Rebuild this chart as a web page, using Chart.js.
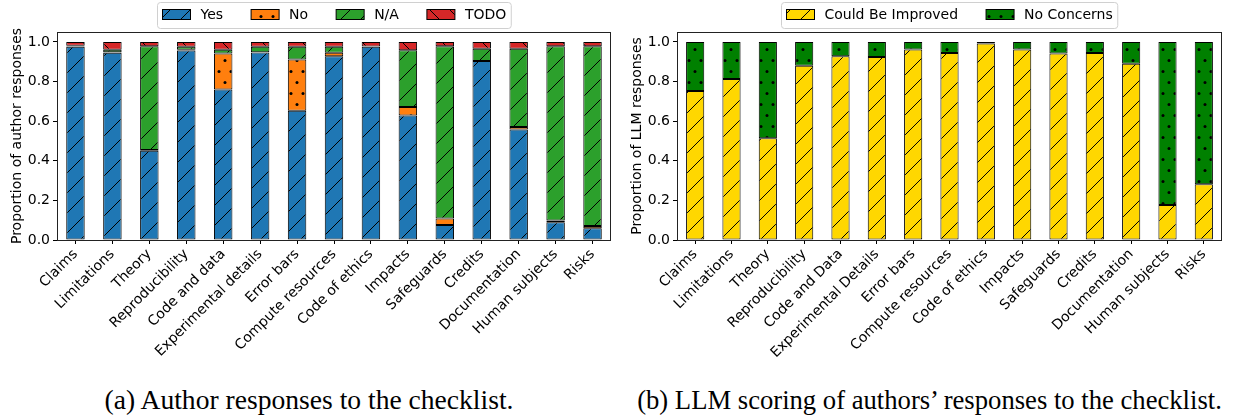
<!DOCTYPE html>
<html><head><meta charset="utf-8">
<script src="https://cdn.jsdelivr.net/npm/chart.js@4/dist/chart.umd.min.js"></script>
<style>
html,body{margin:0;padding:0;background:#fff;width:1233px;height:417px;overflow:hidden;position:relative}
#ca{position:absolute;left:0;top:0}
#cb{position:absolute;left:620px;top:0}
.cap{position:absolute;top:388px;font-family:"Liberation Serif",serif;font-size:22px;line-height:24px;white-space:nowrap;color:#000;transform:translateX(-50%)}
</style></head><body>
<canvas id="ca" width="620" height="360"></canvas>
<canvas id="cb" width="613" height="360"></canvas>
<div class="cap" id="capA" style="left:309px">(a) Author responses to the checklist.</div>
<div class="cap" id="capB" style="left:929.5px">(b) LLM scoring of authors’ responses to the checklist.</div>
<script>
// ---- data: author responses ----
const categoriesA = ["Claims","Limitations","Theory","Reproducibility","Code and data","Experimental details","Error bars","Compute resources","Code of ethics","Impacts","Safeguards","Credits","Documentation","Human subjects","Risks"];
const yesA  = [0.975,0.945,0.450,0.957,0.760,0.946,0.652,0.928,0.975,0.629,0.076,0.904,0.558,0.089,0.059];
const noA   = [0.003,0.003,0.004,0.003,0.181,0.002,0.259,0.017,0.000,0.043,0.032,0.000,0.012,0.010,0.012];
const naA   = [0.002,0.013,0.524,0.015,0.020,0.027,0.064,0.030,0.002,0.286,0.870,0.062,0.395,0.879,0.907];
const todoA = [0.020,0.039,0.022,0.025,0.039,0.025,0.025,0.025,0.023,0.042,0.022,0.034,0.035,0.022,0.022];
// ---- data: LLM scoring ----
const categoriesB = ["Claims","Limitations","Theory","Reproducibility","Code and Data","Experimental Details","Error bars","Compute resources","Code of ethics","Impacts","Safeguards","Credits","Documentation","Human subjects","Risks"];
const improveB  = [0.752,0.813,0.514,0.879,0.927,0.924,0.962,0.944,0.992,0.962,0.941,0.944,0.890,0.177,0.282];
const concernsB = [0.248,0.187,0.486,0.121,0.073,0.076,0.038,0.056,0.008,0.038,0.059,0.056,0.110,0.823,0.718];
const yTicks = [0.0,0.2,0.4,0.6,0.8,1.0];

Chart.defaults.font.family = '"DejaVu Sans", sans-serif';
Chart.defaults.font.size = 14;
Chart.defaults.color = '#000';

function pattern(bg, kind){
  const c = document.createElement('canvas');
  let g;
  if (kind === '/' || kind === '\\') {
    c.width = 20; c.height = 20; g = c.getContext('2d');
    g.fillStyle = bg; g.fillRect(0,0,20,20);
    g.strokeStyle = '#000'; g.lineWidth = 1; g.beginPath();
    if (kind === '/') { g.moveTo(-2,22); g.lineTo(22,-2); }
    else { g.moveTo(-2,-2); g.lineTo(22,22); }
    g.stroke();
  } else {
    c.width = 12; c.height = 22; g = c.getContext('2d');
    g.fillStyle = bg; g.fillRect(0,0,12,22);
    g.fillStyle = '#000';
    [[3,5.5],[9,16.5]].forEach(p=>{ g.beginPath(); g.arc(p[0],p[1],1.5,0,Math.PI*2); g.fill(); });
  }
  return g.createPattern(c,'repeat');
}

const P = {
  yes: pattern('#1f77b4','/'), no: pattern('#ff7f0e','.'), na: pattern('#2ca02c','/'), todo: pattern('#d62728','\\'),
  imp: pattern('#ffd700','/'), nc: pattern('#008000','.')
};

const boxPlugin = {
  id:'mplBox',
  afterDatasetsDraw(chart){
    const ca = chart.chartArea, ctx = chart.ctx;
    ctx.save(); ctx.strokeStyle = '#222'; ctx.lineWidth = 1;
    ctx.strokeRect(Math.round(ca.left)+0.5, Math.round(ca.top)+0.5, Math.round(ca.right-ca.left)-1, Math.round(ca.bottom-ca.top));
    ctx.restore();
  }
};
const legendPlugin = {
  id:'mplLegend',
  afterDraw(chart, args, opts){
    const items = opts.items; if (!items) return;
    const ctx = chart.ctx; ctx.save();
    ctx.font = '14px "DejaVu Sans"';
    const sw = 28, sh = 10, tp = 10, cs = 28, bp = 5;
    let w = bp*2;
    items.forEach((it,i)=>{ w += sw + tp + ctx.measureText(it.label).width + (i ? cs : 0); });
    const ca = chart.chartArea, cx = (ca.left+ca.right)/2;
    const x0 = Math.round(cx - w/2) + 0.5, y0 = 2.5, h = 26, r = 3;
    ctx.beginPath();
    ctx.moveTo(x0+r,y0); ctx.lineTo(x0+w-r,y0); ctx.quadraticCurveTo(x0+w,y0,x0+w,y0+r);
    ctx.lineTo(x0+w,y0+h-r); ctx.quadraticCurveTo(x0+w,y0+h,x0+w-r,y0+h);
    ctx.lineTo(x0+r,y0+h); ctx.quadraticCurveTo(x0,y0+h,x0,y0+h-r);
    ctx.lineTo(x0,y0+r); ctx.quadraticCurveTo(x0,y0,x0+r,y0); ctx.closePath();
    ctx.fillStyle = 'rgba(255,255,255,0.9)'; ctx.fill();
    ctx.strokeStyle = '#d0d0d0'; ctx.lineWidth = 1; ctx.stroke();
    let x = x0 + bp;
    items.forEach(it=>{
      ctx.fillStyle = it.fill; ctx.fillRect(x, 9.5, sw, sh);
      ctx.strokeStyle = '#000'; ctx.lineWidth = 1; ctx.strokeRect(x, 9.5, sw, sh);
      x += sw + tp;
      ctx.fillStyle = '#000'; ctx.textBaseline = 'middle'; ctx.textAlign = 'left';
      ctx.fillText(it.label, x, 15.5);
      x += ctx.measureText(it.label).width + cs;
    });
    ctx.restore();
  }
};

function ds(label, data, fill){
  return {label, data, backgroundColor: fill, borderColor: '#000', borderWidth: 1, borderSkipped: false,
          barPercentage: 0.5, categoryPercentage: 1.0};
}

function makeChart(id, labels, datasets, ytitle, legendItems, padRight){
  return new Chart(document.getElementById(id), {
    type: 'bar',
    data: { labels, datasets },
    plugins: [boxPlugin, legendPlugin],
    options: {
      responsive: false, animation: false,
      layout: { padding: { top: 32, right: padRight, left: 0, bottom: 0 } },
      plugins: { legend: { display: false }, tooltip: { enabled: false }, mplLegend: { items: legendItems } },
      scales: {
        x: {
          stacked: true,
          grid: { display: true, drawOnChartArea: false, drawTicks: true, tickLength: 4, offset: false, color: '#000', tickColor: '#000' },
          border: { display: false },
          ticks: { maxRotation: 45, minRotation: 45, autoSkip: false, padding: 2, font: { size: 14 } },
          afterFit(s){ s.height = 120; }
        },
        y: {
          stacked: true, min: 0, max: 1.05,
          grid: { display: true, drawOnChartArea: false, drawTicks: true, tickLength: 4, color: '#000', tickColor: '#000' },
          border: { display: false },
          ticks: { stepSize: 0.2, padding: 3, font: { size: 14 }, callback: v => Number(v).toFixed(1) },
          afterBuildTicks(s){ s.ticks = yTicks.map(v => ({ value: v })); },
          afterFit(s){ s.width = 57; },
          title: { display: true, text: ytitle, font: { size: 14 }, padding: { top: 9, bottom: 0 } }
        }
      }
    }
  });
}

makeChart('ca', categoriesA, [
  ds('Yes', yesA, P.yes), ds('No', noA, P.no), ds('N/A', naA, P.na), ds('TODO', todoA, P.todo)
], 'Proportion of author responses', [
  {label:'Yes', fill:P.yes},{label:'No', fill:P.no},{label:'N/A', fill:P.na},{label:'TODO', fill:P.todo}
], 9);

makeChart('cb', categoriesB, [
  ds('Could Be Improved', improveB, P.imp), ds('No Concerns', concernsB, P.nc)
], 'Proportion of LLM responses', [
  {label:'Could Be Improved', fill:P.imp},{label:'No Concerns', fill:P.nc}
], 11);

// fit caption font sizes to the reference caption widths
(function(){
  [['capA',409],['capB',585]].forEach(([id,target])=>{
    const el = document.getElementById(id);
    const w = el.getBoundingClientRect().width;
    el.style.fontSize = (22 * target / w).toFixed(2) + 'px';
  });
})();
</script>
</body></html>
